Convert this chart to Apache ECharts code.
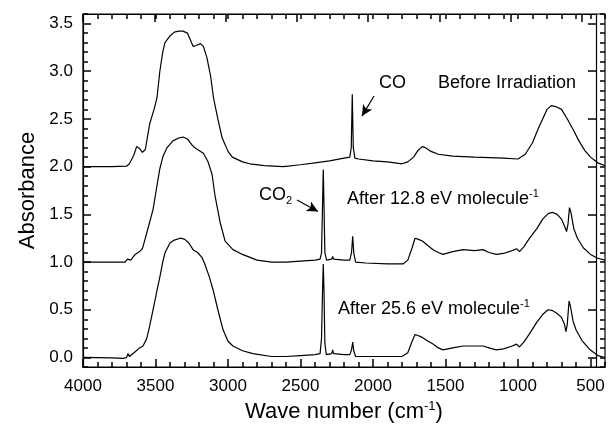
<!DOCTYPE html>
<html>
<head>
<meta charset="utf-8">
<script src="https://cdn.jsdelivr.net/npm/echarts@6/dist/echarts.min.js"></script>
<style>
html,body{margin:0;padding:0;background:#fff;}
#chart{width:609px;height:431px;}
</style>
</head>
<body>
<div id="chart"></div>
<script>
// Tick labels
var xMajorTicks = [4000, 3500, 3000, 2500, 2000, 1500, 1000, 500];
var yMajorTicks = [0, 0.5, 1.0, 1.5, 2.0, 2.5, 3.0, 3.5];

// Spectra: [wave number (cm-1), absorbance]
var beforeIrradiation = [
  [4000,2.0],[3800,2.0],[3700,2.005],[3680,2.03],[3650,2.12],[3630,2.21],[3610,2.19],[3590,2.15],
  [3570,2.18],[3540,2.45],[3510,2.6],[3490,2.72],[3470,3.0],[3450,3.2],[3435,3.3],[3400,3.37],
  [3370,3.41],[3340,3.42],[3310,3.42],[3280,3.40],[3260,3.33],[3240,3.26],[3220,3.27],[3190,3.29],
  [3170,3.26],[3145,3.14],[3120,2.95],[3100,2.72],[3070,2.5],[3040,2.3],[3000,2.16],[2970,2.1],
  [2900,2.05],[2850,2.03],[2750,2.01],[2620,2.0],[2500,2.02],[2400,2.04],[2350,2.05],[2345,2.065],
  [2340,2.055],[2300,2.06],[2200,2.09],[2160,2.1],[2150,2.2],[2143,2.76],[2136,2.2],[2125,2.09],
  [2100,2.08],[2000,2.06],[1900,2.05],[1800,2.03],[1760,2.05],[1720,2.1],[1690,2.17],[1660,2.21],
  [1640,2.2],[1600,2.16],[1550,2.13],[1450,2.11],[1300,2.10],[1100,2.09],[1000,2.08],[950,2.13],
  [900,2.25],[860,2.4],[830,2.5],[800,2.6],[770,2.64],[740,2.63],[700,2.6],[660,2.5],[620,2.39],
  [580,2.27],[540,2.17],[500,2.1],[450,2.04],[400,2.01]
];
var after12_8 = [
  [4000,1.0],[3800,1.0],[3710,1.0],[3695,1.03],[3685,1.01],[3670,1.02],[3640,1.08],[3610,1.11],
  [3590,1.14],[3570,1.25],[3540,1.42],[3517,1.55],[3490,1.8],[3470,1.98],[3448,2.11],[3420,2.2],
  [3380,2.27],[3340,2.3],[3310,2.31],[3280,2.29],[3250,2.23],[3230,2.2],[3200,2.17],[3170,2.14],
  [3140,2.06],[3110,1.92],[3090,1.7],[3055,1.42],[3020,1.22],[2966,1.13],[2900,1.08],[2800,1.02],
  [2700,1.0],[2600,1.0],[2500,1.01],[2400,1.02],[2365,1.03],[2355,1.1],[2348,1.6],[2343,1.97],
  [2338,1.6],[2332,1.1],[2320,1.02],[2285,1.03],[2278,1.06],[2272,1.03],[2200,1.02],[2160,1.02],
  [2148,1.1],[2140,1.27],[2133,1.1],[2120,1.0],[2050,0.99],[1900,0.98],[1793,0.98],[1760,1.02],
  [1730,1.15],[1710,1.25],[1690,1.24],[1660,1.22],[1620,1.17],[1586,1.13],[1550,1.1],[1517,1.08],
  [1450,1.11],[1379,1.13],[1300,1.12],[1241,1.13],[1200,1.1],[1150,1.08],[1100,1.09],[1040,1.12],
  [1010,1.14],[990,1.11],[960,1.16],[920,1.25],[870,1.35],[830,1.45],[790,1.51],[760,1.52],
  [730,1.50],[700,1.45],[680,1.38],[665,1.32],[655,1.4],[645,1.57],[635,1.52],[615,1.35],
  [590,1.25],[550,1.15],[500,1.08],[450,1.04],[400,1.02]
];
var after25_6 = [
  [4000,0.0],[3800,-0.005],[3720,-0.01],[3700,0.0],[3690,0.04],[3680,0.01],[3670,0.0],[3640,0.06],
  [3610,0.1],[3586,0.12],[3560,0.2],[3540,0.33],[3517,0.5],[3490,0.7],[3469,0.85],[3450,1.0],
  [3434,1.1],[3400,1.2],[3370,1.23],[3330,1.25],[3300,1.24],[3270,1.2],[3241,1.13],[3210,1.1],
  [3180,1.05],[3160,0.98],[3130,0.85],[3103,0.71],[3070,0.5],[3034,0.29],[3000,0.17],[2966,0.12],
  [2900,0.07],[2828,0.04],[2700,0.01],[2600,0.01],[2500,0.02],[2400,0.03],[2365,0.04],[2355,0.2],
  [2348,0.7],[2343,0.98],[2338,0.7],[2332,0.15],[2322,0.03],[2285,0.04],[2278,0.08],[2272,0.04],
  [2200,0.03],[2160,0.03],[2148,0.08],[2140,0.16],[2133,0.07],[2120,0.01],[2000,0.01],[1800,0.01],
  [1760,0.05],[1730,0.17],[1710,0.24],[1690,0.23],[1660,0.21],[1620,0.17],[1586,0.14],[1550,0.1],
  [1517,0.08],[1450,0.1],[1379,0.12],[1300,0.12],[1241,0.12],[1200,0.1],[1150,0.08],[1100,0.09],
  [1040,0.12],[1010,0.14],[990,0.11],[960,0.16],[920,0.25],[870,0.37],[830,0.45],[793,0.5],
  [760,0.49],[730,0.46],[700,0.42],[680,0.35],[669,0.27],[660,0.35],[648,0.59],[640,0.55],
  [620,0.38],[600,0.29],[560,0.18],[503,0.08],[450,0.02],[400,0.0]
];

// Arrow annotations in data coordinates
var coArrow = [[1993, 2.74], [2076, 2.53]];
var co2Arrow = [[2524, 1.65], [2379, 1.53]];

var FONT = '"Liberation Sans", Arial, Helvetica, sans-serif';
var X_MIN = 400, X_MAX = 4000, Y_MIN = -0.1, Y_MAX = 3.6;

function blank() { return ''; }

function xAx(grid, pos, major, withLabel) {
  var a = {
    type: 'value', gridIndex: grid, inverse: true, min: X_MIN, max: X_MAX, position: pos,
    splitLine: {show: false},
    axisLine: {show: major, onZero: false, lineStyle: {color: '#000', width: 1.2}},
    axisTick: {show: true, inside: true, length: major ? 8 : 5, lineStyle: {color: '#000', width: 1.5}},
    axisLabel: {show: major, color: '#000', fontSize: 17, fontFamily: FONT, margin: 11,
      formatter: withLabel ? function (v) { return String(v); } : blank}
  };
  if (major) { a.axisTick.customValues = xMajorTicks; a.axisLabel.customValues = xMajorTicks; }
  else { a.interval = 100; }
  return a;
}
function yAx(grid, pos, major, withLabel) {
  var a = {
    type: 'value', gridIndex: grid, min: Y_MIN, max: Y_MAX, position: pos,
    splitLine: {show: false},
    axisLine: {show: major, onZero: false, lineStyle: {color: '#000', width: 1.2}},
    axisTick: {show: true, inside: true, length: major ? 8 : 5, lineStyle: {color: '#000', width: 1.5}},
    axisLabel: {show: major, color: '#000', fontSize: 17, fontFamily: FONT, margin: 10,
      formatter: withLabel ? function (v) { return v.toFixed(1); } : blank}
  };
  if (major) { a.axisTick.customValues = yMajorTicks; a.axisLabel.customValues = yMajorTicks; }
  else { a.interval = 0.1; }
  return a;
}

// grids 0/1: bottom+left major / minor ticks; grids 2/3: top+right major / minor ticks
var xAxes = [xAx(0, 'bottom', true, true), xAx(1, 'bottom', false, false), xAx(2, 'top', true, false), xAx(3, 'top', false, false)];
xAxes[0].name = 'Wave number (cm{sup|-1})';
xAxes[0].nameLocation = 'middle';
xAxes[0].nameGap = 33;
xAxes[0].nameTextStyle = {color: '#000', fontSize: 22, fontFamily: FONT,
  rich: {sup: {fontSize: 13, fontFamily: FONT, color: '#000', verticalAlign: 'top', padding: [0, 0, 10, 0]}}};

var yAxes = [yAx(0, 'left', true, true), yAx(1, 'left', false, false), yAx(2, 'right', true, false), yAx(3, 'right', false, false)];
yAxes[0].name = 'Absorbance';
yAxes[0].nameLocation = 'middle';
yAxes[0].nameGap = 44;
yAxes[0].nameTextStyle = {color: '#000', fontSize: 22, fontFamily: FONT};

function lineSeries(name, data, arrow) {
  var s = {
    name: name, type: 'line', data: data, xAxisIndex: 0, yAxisIndex: 0,
    showSymbol: false, symbol: 'none', smooth: false,
    lineStyle: {color: '#000', width: 1.2}, silent: true
  };
  if (arrow) {
    s.markLine = {
      silent: true, symbol: ['none', 'arrow'], symbolSize: [8, 11], animation: false,
      label: {show: false},
      lineStyle: {color: '#000', width: 1.2, type: 'solid'},
      data: [[{coord: arrow[0]}, {coord: arrow[1]}]]
    };
  }
  return s;
}

var chart = echarts.init(document.getElementById('chart'));

var txt = function (left, top, text) {
  return {
    type: 'text', left: left, top: top, silent: true,
    style: {
      text: text, fill: '#000', fontSize: 18, fontFamily: FONT,
      rich: {
        n: {fontSize: 18, fontFamily: FONT, fill: '#000', lineHeight: 22},
        sup: {fontSize: 11, fontFamily: FONT, fill: '#000', verticalAlign: 'top', lineHeight: 22},
        sub: {fontSize: 11, fontFamily: FONT, fill: '#000', verticalAlign: 'bottom', lineHeight: 22, padding: [8, 0, 0, 0]}
      }
    }
  };
};

function gridBox(withFrame) {
  var g = {left: 83, right: 4, top: 14, bottom: 64};
  if (withFrame) { g.show = true; g.borderColor = '#000'; g.borderWidth = 1.2; g.backgroundColor = 'transparent'; }
  return g;
}

chart.setOption({
  animation: false,
  backgroundColor: '#fff',
  grid: [gridBox(true), gridBox(false), gridBox(false), gridBox(false)],
  xAxis: xAxes,
  yAxis: yAxes,
  series: [
    lineSeries('Before Irradiation', beforeIrradiation, coArrow),
    lineSeries('After 12.8 eV molecule-1', after12_8, co2Arrow),
    lineSeries('After 25.6 eV molecule-1', after25_6, null)
  ],
  graphic: [
    txt(379, 74, '{n|CO}'),
    txt(438, 74, '{n|Before Irradiation}'),
    txt(347, 188, '{n|After 12.8 eV molecule}{sup|-1}'),
    txt(259, 186, '{n|CO}{sub|2}'),
    txt(338, 298, '{n|After 25.6 eV molecule}{sup|-1}')
  ]
});
</script>
</body>
</html>
